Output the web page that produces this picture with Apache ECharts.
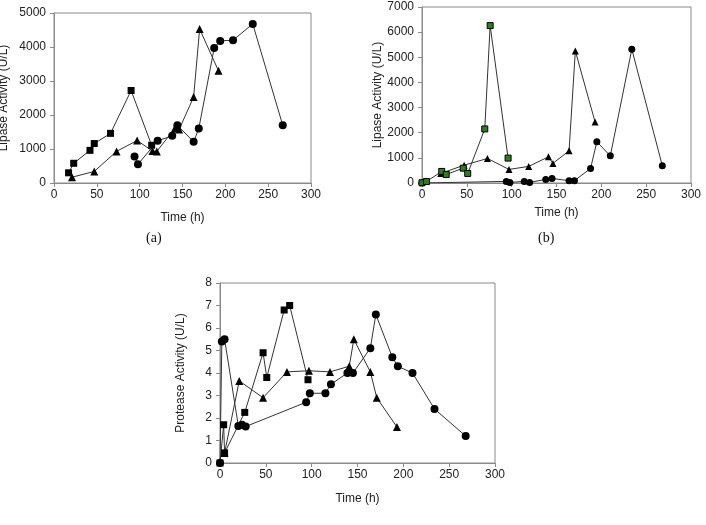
<!DOCTYPE html>
<html>
<head>
<meta charset="utf-8">
<script src="https://cdn.jsdelivr.net/npm/echarts@6/dist/echarts.min.js"></script>
<style>
  html, body { margin: 0; padding: 0; background: #fff; }
  #main { width: 706px; height: 525px; }
</style>
</head>
<body>
<div id="main"></div>
<script>
// panel (a) lipase, U/L
var aSquareTime = [17, 23, 42, 47, 66, 90, 114];
var aSquareVal  = [300, 580, 960, 1160, 1460, 2720, 1110];
var aTriTime = [21, 47, 73, 97, 115, 120, 141, 146, 163, 170, 192];
var aTriVal  = [170, 340, 930, 1250, 940, 930, 1600, 1570, 2530, 4530, 3300];
var aCircTime = [94, 98, 121, 138, 144, 163, 169, 187, 194, 209, 232, 267];
var aCircVal  = [780, 550, 1240, 1390, 1700, 1210, 1600, 3970, 4180, 4200, 4680, 1700];

// panel (b) lipase, U/L
var bSquareTime = [0, 5, 22, 27, 46, 51, 70, 76, 96];
var bSquareVal  = [10, 60, 460, 340, 590, 380, 2150, 6260, 990];
var bTriTime = [21, 47, 73, 97, 119, 141, 146, 164, 171, 193];
var bTriVal  = [380, 710, 975, 540, 660, 1040, 780, 1280, 5250, 2430];
var bCircTime = [0, 94, 98, 114, 120, 138, 145, 164, 170, 188, 195, 210, 234, 268];
var bCircVal  = [0, 64, 24, 64, 24, 143, 182, 91, 91, 580, 1640, 1080, 5320, 690];

// panel (c) protease, U/L
var cSquareTime = [0, 4, 5, 27, 47, 51, 70, 76, 96];
var cSquareVal  = [0, 1.7, 0.45, 2.25, 4.9, 3.8, 6.8, 7.0, 3.7];
var cTriTime = [5, 21, 47, 73, 97, 120, 141, 146, 164, 171, 193];
var cTriVal  = [0.45, 3.65, 2.9, 4.05, 4.1, 4.05, 4.3, 5.5, 4.05, 2.9, 1.6];
var cCircTime = [0, 2, 5, 20, 24, 28, 94, 98, 115, 121, 139, 145, 164, 170, 188, 194, 210, 234, 268];
var cCircVal  = [0, 5.4, 5.5, 1.65, 1.7, 1.62, 2.7, 3.1, 3.1, 3.5, 4.0, 4.0, 5.1, 6.6, 4.7, 4.3, 4.0, 2.4, 1.2];

function zip(t, v) {
  var out = [];
  for (var i = 0; i < t.length; i++) out.push([t[i], v[i]]);
  return out;
}

var font = 'Liberation Sans, Arial, sans-serif';
var axisGrey = '#8a8a8a';
var plain = function (v) { return String(v); };  // no thousands separator

function xAx(idx, gap) {
  return {
    type: 'value', gridIndex: idx, min: 0, max: 300, interval: 50,
    name: 'Time (h)', nameLocation: 'middle', nameGap: gap,
    nameTextStyle: { fontFamily: font, fontSize: 12, color: '#222' },
    axisLine: { lineStyle: { color: axisGrey } },
    axisTick: { inside: false, length: 4, lineStyle: { color: axisGrey } },
    axisLabel: { fontFamily: font, fontSize: 12, color: '#222', margin: 6, formatter: plain },
    splitLine: { show: false }
  };
}
function yAx(idx, max, interval, name, gap) {
  return {
    type: 'value', gridIndex: idx, min: 0, max: max, interval: interval,
    name: name, nameLocation: 'middle', nameGap: gap, nameRotate: 90,
    nameTextStyle: { fontFamily: font, fontSize: 12, color: '#222' },
    axisLine: { show: true, lineStyle: { color: axisGrey } },
    axisTick: { show: true, inside: false, length: 4, lineStyle: { color: axisGrey } },
    axisLabel: { fontFamily: font, fontSize: 12, color: '#222', margin: 8, formatter: plain },
    splitLine: { show: false }
  };
}

function ser(idx, data, symbol, size, fill) {
  return {
    type: 'line', xAxisIndex: idx, yAxisIndex: idx, data: data,
    symbol: symbol, symbolSize: size, showSymbol: true,
    lineStyle: { color: '#333', width: 1 },
    itemStyle: { color: fill || '#000', borderColor: '#000', borderWidth: fill ? 1 : 0 },
    animation: false
  };
}

function grid(left, top, width, height) {
  return {
    left: left, top: top, width: width, height: height,
    show: true, borderColor: axisGrey, borderWidth: 1,
    containLabel: false, outerBoundsMode: 'none'
  };
}

var chart = echarts.init(document.getElementById('main'));
var option = {
  backgroundColor: '#fff',
  animation: false,
  grid: [
    grid(54, 13, 257, 170),
    grid(422, 7, 269, 176),
    grid(220, 283, 275, 180)
  ],
  xAxis: [xAx(0, 29), xAx(1, 24), xAx(2, 30)],
  yAxis: [
    yAx(0, 5000, 1000, 'Lipase Activity (U/L)', 44),
    yAx(1, 7000, 1000, 'Lipase Activity (U/L)', 38),
    yAx(2, 8, 1, 'Protease Activity (U/L)', 33)
  ],
  series: [
    ser(0, zip(aCircTime, aCircVal), 'circle', 8),
    ser(0, zip(aTriTime, aTriVal), 'triangle', 8),
    ser(0, zip(aSquareTime, aSquareVal), 'rect', 7),
    ser(1, zip(bCircTime, bCircVal), 'circle', 7),
    ser(1, zip(bTriTime, bTriVal), 'triangle', 7),
    ser(1, zip(bSquareTime, bSquareVal), 'rect', 6, '#2f7d1f'),
    ser(2, zip(cTriTime, cTriVal), 'triangle', 8),
    ser(2, zip(cSquareTime, cSquareVal), 'rect', 7),
    ser(2, zip(cCircTime, cCircVal), 'circle', 8)
  ],
  graphic: [
    { type: 'text', left: 146, top: 231, style: { text: '(a)', font: '14px "Liberation Serif", serif', fill: '#111' } },
    { type: 'text', left: 538, top: 231, style: { text: '(b)', font: '14px "Liberation Serif", serif', fill: '#111' } }
  ]
};
chart.setOption(option);
</script>
</body>
</html>
